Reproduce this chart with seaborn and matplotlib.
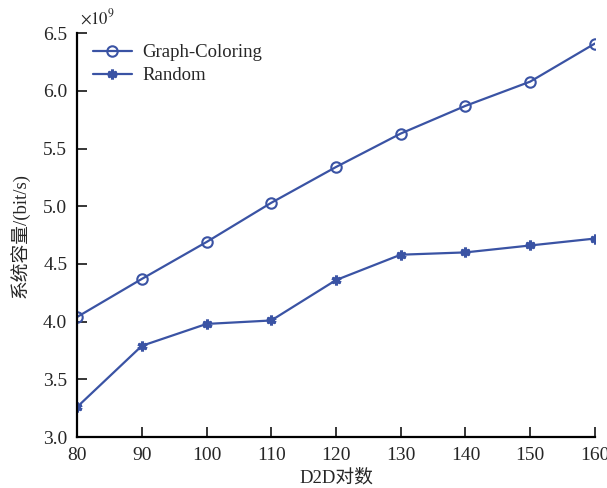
import pandas as pd
import matplotlib
matplotlib.use('Agg')
import matplotlib.pyplot as plt
import seaborn as sns

# values (units of 1e9 bit/s)
pairs = [80, 90, 100, 110, 120, 130, 140, 150, 160]
graph_coloring = [4.04, 4.37, 4.69, 5.03, 5.34, 5.63, 5.87, 6.08, 6.41]
random_alloc = [3.26, 3.79, 3.98, 4.01, 4.36, 4.58, 4.60, 4.66, 4.72]
series_names = ['Graph-Coloring', 'Random']

y_ticks = [3.0, 3.5, 4.0, 4.5, 5.0, 5.5, 6.0, 6.5]
x_ticks = [80, 90, 100, 110, 120, 130, 140, 150, 160]

gc = pd.DataFrame({'pairs': pairs, 'capacity': [v * 1e9 for v in graph_coloring]})
rd = pd.DataFrame({'pairs': pairs, 'capacity': [v * 1e9 for v in random_alloc]})

sns.set_style('ticks')
plt.rcParams['font.family'] = ['Liberation Serif', 'Noto Sans CJK SC', 'DejaVu Sans']
plt.rcParams['mathtext.fontset'] = 'stix'

color = '#3a53a4'
fig = plt.figure(figsize=(6.07, 4.88), dpi=100)
ax = fig.add_axes([0.127, 0.1045, 0.853, 0.8275])

sns.lineplot(x='pairs', y='capacity', data=gc, color=color, marker='o',
             markerfacecolor='none', markeredgecolor=color, markeredgewidth=1.5,
             markersize=7.5, linewidth=1.6, label=series_names[0], ax=ax)
sns.lineplot(x='pairs', y='capacity', data=rd, color=color, marker=(6, 2, 0),
             markeredgecolor=color, markeredgewidth=2.2, markersize=7,
             linewidth=1.6, label=series_names[1], ax=ax)

ax.set_xlim(80, 160)
ax.set_ylim(3.0e9, 6.5e9)
ax.set_xticks(x_ticks)
ax.set_yticks([t * 1e9 for t in y_ticks])
ax.set_yticklabels(['%.1f' % t for t in y_ticks])
ax.set_xticklabels([str(t) for t in x_ticks])
ax.text(0.005, 1.012, r'$\times10^9$', transform=ax.transAxes, fontsize=12, ha='left', va='bottom')

ax.tick_params(direction='in', length=7, width=1.3, labelsize=14, pad=7)
for side in ['left', 'bottom']:
    ax.spines[side].set_linewidth(1.6)
    ax.spines[side].set_color('black')
sns.despine(ax=ax)

ax.set_xlabel('D2D对数', fontsize=13.5, labelpad=4)
ax.set_ylabel('系统容量/(bit/s)', fontsize=13.5, labelpad=10)

ax.legend(loc='upper left', frameon=False, fontsize=13.5,
          handlelength=2.1, handletextpad=0.55, borderaxespad=0.3,
          bbox_to_anchor=(0.005, 1.005), labelspacing=0.3)

fig.savefig('out.png', dpi=100)
